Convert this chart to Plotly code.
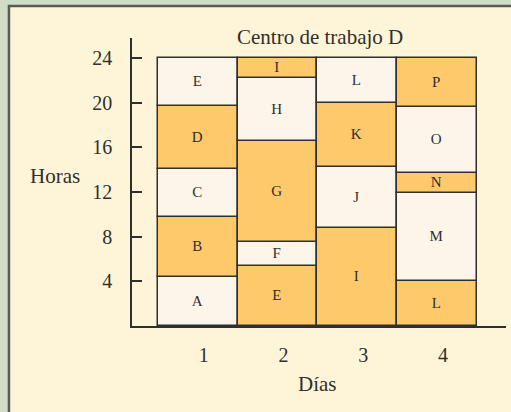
import plotly.graph_objects as go

# Work blocks on each day (hours)
days = [1, 1, 1, 1, 1, 2, 2, 2, 2, 2, 3, 3, 3, 3, 4, 4, 4, 4, 4]
labels = ["A", "B", "C", "D", "E", "E", "F", "G", "H", "I", "I", "J", "K", "L", "L", "M", "N", "O", "P"]
starts = [0, 4.4, 9.8, 14.1, 19.7, 0, 5.4, 7.5, 16.6, 22.2, 0, 8.75, 14.2, 20.0, 0, 4.0, 11.9, 13.7, 19.6]
ends = [4.4, 9.8, 14.1, 19.7, 24, 5.4, 7.5, 16.6, 22.2, 24, 8.75, 14.2, 20.0, 24, 4.0, 11.9, 13.7, 19.6, 24]
shaded = [0, 1, 0, 1, 0, 1, 0, 1, 0, 1, 1, 0, 1, 0, 1, 0, 1, 0, 1]

hour_ticks = [4, 8, 12, 16, 20, 24]
day_ticks = [1, 2, 3, 4]

orange = "#fec96b"
light = "#fdf5ea"
ink = "#2f2f2f"
serif = "Liberation Serif, DejaVu Serif, serif"

fig = go.Figure()

fig.add_trace(go.Bar(
    x=days,
    y=[e - s for s, e in zip(starts, ends)],
    base=starts,
    width=1,
    text=labels,
    textposition="inside",
    insidetextanchor="middle",
    textangle=0,
    constraintext="none",
    textfont=dict(family=serif, size=15, color=ink),
    marker=dict(color=[orange if s else light for s in shaded],
                line=dict(color=ink, width=1.5)),
    hoverinfo="skip",
    showlegend=False,
))

# cream panel with dark border on the green page
fig.add_shape(type="rect", xref="paper", yref="paper",
              x0=-0.329, x1=1.3, y0=-0.5, y1=1.111,
              fillcolor="#fef5d8", line=dict(color="#5a5a55", width=2.5),
              layer="below")

fig.update_layout(
    width=511, height=412,
    margin=dict(l=132, r=5, t=38, b=86),
    paper_bgcolor="#cfdcc6",
    plot_bgcolor="rgba(0,0,0,0)",
    bargap=0,
    font=dict(family=serif, color=ink),
    title=dict(text="Centro de trabajo D", xref="paper", x=0.503, xanchor="center",
               y=0.91, yanchor="middle", font=dict(family=serif, size=21, color=ink)),
    xaxis=dict(range=[0.174, 4.864], tickvals=day_ticks, ticktext=[str(d) for d in day_ticks],
               showline=True, linecolor=ink, linewidth=1.5, showgrid=False, zeroline=False,
               ticks="", ticklabelstandoff=10, ticklabelshift=6,
               tickfont=dict(family=serif, size=20, color=ink)),
    yaxis=dict(range=[0, 25.8], tickvals=hour_ticks, ticktext=[str(h) for h in hour_ticks],
               showline=True, linecolor=ink, linewidth=1.5, showgrid=False, zeroline=False,
               ticks="inside", ticklen=10, tickwidth=1.5, tickcolor=ink,
               ticklabelstandoff=14,
               tickfont=dict(family=serif, size=20, color=ink)),
    annotations=[
        dict(text="Horas", xref="paper", yref="paper", x=-0.206, y=0.521,
             xanchor="center", yanchor="middle",
             showarrow=False, font=dict(family=serif, size=21, color=ink)),
        dict(text="Días", xref="paper", yref="paper", x=0.497, y=-0.201,
             xanchor="center", yanchor="middle",
             showarrow=False, font=dict(family=serif, size=21, color=ink)),
    ],
)

fig.write_html("out.html", config={"displayModeBar": False},
               post_script="document.body.style.margin='0';document.body.style.overflow='hidden';")
